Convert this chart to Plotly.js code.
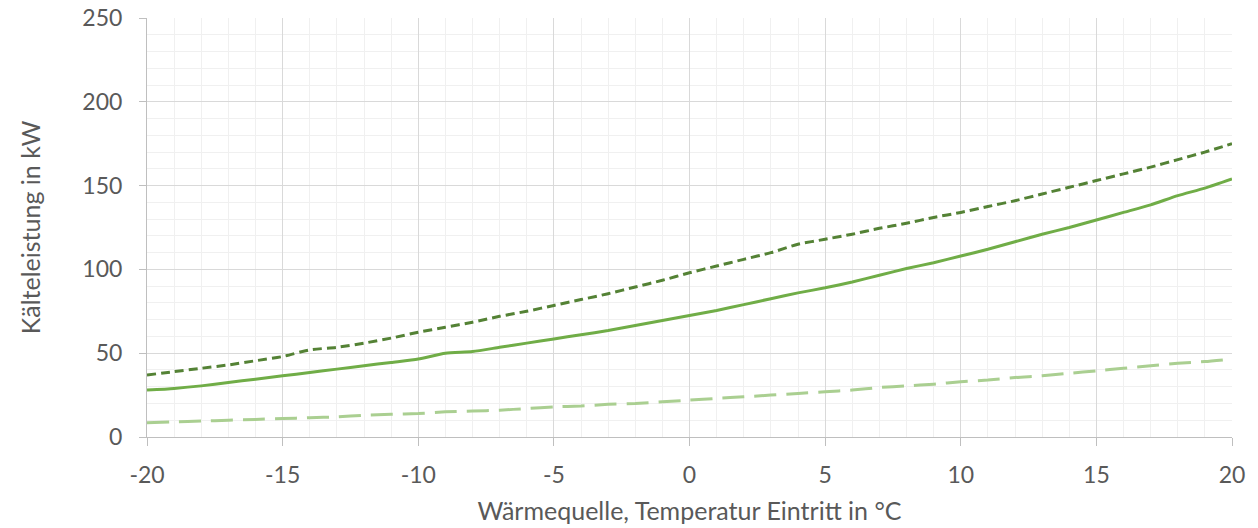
<!DOCTYPE html>
<html>
<head>
<meta charset="utf-8">
<script src="https://cdn.plot.ly/plotly-3.0.1.min.js"></script>
<style>html,body{margin:0;padding:0;background:#fff;}#chart{width:1258px;height:528px;}</style>
</head>
<body>
<div id="chart"></div>
<script>
const temps = [-20,-19,-18,-17,-16,-15,-14,-13,-12,-11,-10,-9,-8,-7,-6,-5,-4,-3,-2,-1,0,1,2,3,4,5,6,7,8,9,10,11,12,13,14,15,16,17,18,19,20];
const solidSeries = [28,29,30.5,32.5,34.5,36.5,38.5,40.5,42.5,44.5,46.5,50,51,53.5,56,58.5,61,63.5,66.5,69.5,72.5,75.5,79,82.5,86,89,92.5,96.5,100.5,104,108,112,116.5,121,125,129.5,134,138.5,144,148.5,154];
const dottedSeries = [37,39,41,43,45.5,48,52,53.5,56,59,62.5,65.5,68.5,72,75,78.5,82,85.5,89.5,93.5,98,102,106,110,115,118,121,124.5,127.5,131,134,137.5,141,145,149,153,157,161,165.5,170,175];
const dashedSeries = [8.5,9,9.5,10,10.5,11,11.5,12,13,13.5,14,15,15.5,16,17,18,18.5,19.5,20,21,22,23,24,25,26,27,28,29.5,30.5,31.5,33,34,35.5,36.5,38,39.5,41,42.5,44,45,46.5];
const xTickVals = [-20,-15,-10,-5,0,5,10,15,20];
const xTickText = ['-20','-15','-10','-5','0','5','10','15','20'];
const yTickVals = [0,50,100,150,200,250];
const yTickText = ['0','50','100','150','200','250'];

const traces = [
  {x: temps, y: dashedSeries, mode: 'lines', line: {color: '#AACF91', width: 3, dash: '22px,10px', shape: 'spline', smoothing: 0.6}},
  {x: temps, y: dottedSeries, mode: 'lines', line: {color: '#548235', width: 3, dash: '9px,5px', shape: 'spline', smoothing: 0.6}},
  {x: temps, y: solidSeries, mode: 'lines', line: {color: '#70AD47', width: 3, shape: 'spline', smoothing: 0.6}}
];

const tickFont = {family: 'Lato, "Open Sans", sans-serif', size: 23, color: '#595959'};
const titleFont = {family: 'Lato, "Open Sans", sans-serif', size: 25, color: '#595959'};
const layout = {
  width: 1258, height: 528,
  margin: {l: 147, r: 26, t: 18, b: 91},
  showlegend: false,
  paper_bgcolor: '#fff', plot_bgcolor: '#fff',
  font: tickFont,
  xaxis: {
    range: [-20, 20], tickmode: 'array', tickvals: xTickVals, ticktext: xTickText,
    showgrid: true, gridcolor: '#D9D9D9', gridwidth: 1,
    minor: {dtick: 1, tick0: -20, showgrid: true, gridcolor: '#F0F0F0', gridwidth: 1},
    zeroline: false,
    showline: true, linecolor: '#BFBFBF', linewidth: 1,
    ticks: 'outside', ticklen: 8, tickcolor: '#BFBFBF',
    ticklabelstandoff: 9,
    tickfont: tickFont,
    title: {text: 'Wärmequelle, Temperatur Eintritt in °C', font: titleFont, standoff: 15}
  },
  yaxis: {
    range: [0, 250], tickmode: 'array', tickvals: yTickVals, ticktext: yTickText,
    showgrid: true, gridcolor: '#D9D9D9', gridwidth: 1,
    minor: {dtick: 10, tick0: 0, showgrid: true, gridcolor: '#F0F0F0', gridwidth: 1},
    zeroline: false,
    showline: true, linecolor: '#BFBFBF', linewidth: 1,
    ticks: 'outside', ticklen: 7, tickcolor: '#BFBFBF',
    ticklabelstandoff: 12,
    tickfont: tickFont,
    title: {text: 'Kälteleistung in kW', font: titleFont, standoff: 34}
  }
};
Plotly.newPlot('chart', traces, layout, {displayModeBar: false, staticPlot: true});
</script>
</body>
</html>
